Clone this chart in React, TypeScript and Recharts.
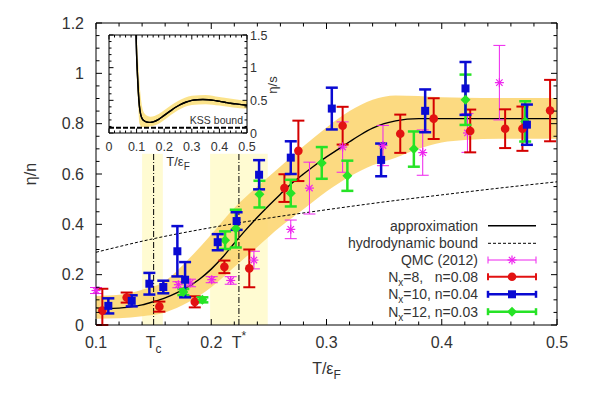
import React from "react";
import {
  ComposedChart,
  Line,
  Area,
  Scatter,
  ErrorBar,
  XAxis,
  YAxis,
  ReferenceLine,
  Legend,
} from "recharts";

const FONT = '"Liberation Sans", Arial, Helvetica, sans-serif';
const TEXT = "#333";

const TC = 0.15;
const TSTAR = 0.224;

// approximation curve
const curveT = [0.1, 0.11, 0.12, 0.13, 0.14, 0.15, 0.16, 0.17, 0.18, 0.19, 0.2, 0.21, 0.22, 0.23, 0.24, 0.25, 0.26, 0.27, 0.28, 0.29, 0.3, 0.31, 0.32, 0.33, 0.34, 0.35, 0.36, 0.37, 0.38, 0.42, 0.46, 0.5];
const curveEta = [0.068, 0.066, 0.067, 0.072, 0.08, 0.093, 0.108, 0.128, 0.152, 0.183, 0.222, 0.27, 0.325, 0.378, 0.428, 0.475, 0.52, 0.563, 0.6, 0.635, 0.668, 0.698, 0.728, 0.757, 0.782, 0.8, 0.811, 0.818, 0.82, 0.82, 0.82, 0.82];

// uncertainty band of the approximation
const bandT = [0.1, 0.12, 0.14, 0.16, 0.18, 0.2, 0.22, 0.24, 0.26, 0.28, 0.3, 0.32, 0.34, 0.36, 0.38, 0.4, 0.42, 0.45, 0.5];
const bandLow = [0.025, 0.027, 0.035, 0.05, 0.09, 0.15, 0.23, 0.31, 0.39, 0.46, 0.53, 0.59, 0.635, 0.665, 0.7, 0.725, 0.735, 0.74, 0.74];
const bandHigh = [0.115, 0.12, 0.14, 0.175, 0.26, 0.36, 0.465, 0.55, 0.63, 0.71, 0.785, 0.85, 0.895, 0.912, 0.91, 0.905, 0.903, 0.902, 0.902];

// pale regions around Tc and T*
const tcRegion = [0.14, 0.158];
const tstarRegion = [0.199, 0.249];
const regionTop = 0.68;

// hydrodynamic bound
const hydroT = [0.1, 0.15, 0.2, 0.25, 0.3, 0.35, 0.4, 0.45, 0.5];
const hydroEta = [0.289, 0.343, 0.387, 0.425, 0.458, 0.489, 0.517, 0.544, 0.569];

// QMC (2012)
const qmcT = [0.1, 0.1715, 0.1816, 0.2004, 0.2169, 0.237, 0.269, 0.2852, 0.314, 0.349, 0.3835, 0.4223, 0.45];
const qmcEta = [0.137, 0.16, 0.167, 0.18, 0.177, 0.258, 0.38, 0.544, 0.707, 0.713, 0.685, 0.763, 0.963];
const qmcErr = [0.012, 0.012, 0.015, 0.012, 0.015, 0.035, 0.037, 0.103, 0.1, 0.08, 0.09, 0.077, 0.148];

// Nx=8, n=0.08
const n8T = [0.1055, 0.1266, 0.155, 0.1857, 0.2114, 0.233, 0.2635, 0.2756, 0.314, 0.364, 0.393, 0.4247, 0.455, 0.47, 0.494];
const n8Eta = [0.057, 0.109, 0.073, 0.092, 0.231, 0.225, 0.544, 0.692, 0.792, 0.76, 0.82, 0.771, 0.78, 0.78, 0.852];
const n8Err: (number | number[])[] = [[0.057, 0.087], 0.02, 0.02, 0.022, 0.025, 0.075, 0.055, 0.12, 0.075, 0.076, 0.081, 0.085, 0.077, 0.088, 0.122];

// Nx=10, n=0.04
const n10T = [0.1107, 0.131, 0.1463, 0.1584, 0.1706, 0.1773, 0.2056, 0.222, 0.2415, 0.269, 0.3046, 0.3474, 0.3856, 0.4206, 0.4739];
const n10Eta = [0.076, 0.096, 0.164, 0.151, 0.293, 0.18, 0.329, 0.413, 0.597, 0.665, 0.86, 0.656, 0.851, 0.94, 0.796];
const n10Err = [0.03, 0.022, 0.043, 0.025, 0.1, 0.07, 0.032, 0.035, 0.058, 0.065, 0.083, 0.065, 0.085, 0.105, 0.08];

// Nx=12, n=0.03
const n12T = [0.1758, 0.1923, 0.212, 0.2213, 0.2418, 0.269, 0.2959, 0.3181, 0.3758, 0.4206, 0.4724];
const n12Eta = [0.131, 0.1, 0.337, 0.383, 0.52, 0.524, 0.644, 0.593, 0.699, 0.895, 0.809];
const n12Err = [0.012, 0.01, 0.035, 0.075, 0.053, 0.053, 0.063, 0.06, 0.07, 0.1, 0.08];

// inset: eta/s
const insetT = [0.098, 0.1, 0.103, 0.106, 0.11, 0.115, 0.12, 0.13, 0.14, 0.15, 0.16, 0.18, 0.2, 0.22, 0.24, 0.26, 0.28, 0.3, 0.32, 0.34, 0.36, 0.38, 0.4, 0.42, 0.44, 0.46, 0.48, 0.5];
const insetEta = [1.5, 1.2, 0.9, 0.65, 0.42, 0.28, 0.22, 0.18, 0.165, 0.162, 0.17, 0.21, 0.27, 0.33, 0.39, 0.44, 0.475, 0.5, 0.51, 0.513, 0.51, 0.5, 0.485, 0.47, 0.455, 0.445, 0.435, 0.425];
const insetBandT = [0.098, 0.1, 0.105, 0.11, 0.12, 0.13, 0.15, 0.18, 0.2, 0.25, 0.3, 0.35, 0.4, 0.45, 0.5];
const insetBandLow = [1.4, 0.95, 0.5, 0.15, 0.09, 0.09, 0.1, 0.14, 0.2, 0.35, 0.43, 0.44, 0.42, 0.39, 0.37];
const insetBandHigh = [1.5, 1.5, 1.15, 0.8, 0.4, 0.29, 0.25, 0.29, 0.35, 0.49, 0.57, 0.58, 0.55, 0.52, 0.49];
const KSS = 0.08;

// ticks
const xTicks = [0.1, 0.12, 0.14, 0.15, 0.16, 0.18, 0.2, 0.22, 0.224, 0.24, 0.26, 0.28, 0.3, 0.32, 0.34, 0.36, 0.38, 0.4, 0.42, 0.44, 0.46, 0.48, 0.5];
const xTicksTop = [0.1, 0.12, 0.14, 0.16, 0.18, 0.2, 0.22, 0.24, 0.26, 0.28, 0.3, 0.32, 0.34, 0.36, 0.38, 0.4, 0.42, 0.44, 0.46, 0.48, 0.5];
const yTicks = [0, 0.05, 0.1, 0.15, 0.2, 0.25, 0.3, 0.35, 0.4, 0.45, 0.5, 0.55, 0.6, 0.65, 0.7, 0.75, 0.8, 0.85, 0.9, 0.95, 1, 1.05, 1.1, 1.15, 1.2];
const insetXTicks = [0, 0.02, 0.04, 0.06, 0.08, 0.1, 0.12, 0.14, 0.16, 0.18, 0.2, 0.22, 0.24, 0.26, 0.28, 0.3, 0.32, 0.34, 0.36, 0.38, 0.4, 0.42, 0.44, 0.46, 0.48, 0.5];
const insetYTicks = [0, 0.1, 0.2, 0.3, 0.4, 0.5, 0.6, 0.7, 0.8, 0.9, 1, 1.1, 1.2, 1.3, 1.4, 1.5];

const pts = (t: number[], v: number[], e?: any[]) =>
  t.map((x, i) => ({ x, y: v[i], err: e ? e[i] : 0 }));

const curveData = pts(curveT, curveEta);
const hydroData = pts(hydroT, hydroEta);
const bandData = bandT.map((x, i) => ({ x, range: [bandLow[i], bandHigh[i]] }));
const tcData = tcRegion.map((x) => ({ x, y: regionTop }));
const tstarData = tstarRegion.map((x) => ({ x, y: regionTop }));
const qmcData = pts(qmcT, qmcEta, qmcErr);
const n8Data = pts(n8T, n8Eta, n8Err);
const n10Data = pts(n10T, n10Eta, n10Err);
const n12Data = pts(n12T, n12Eta, n12Err);
const insetData = pts(insetT, insetEta);
const insetBand = insetBandT.map((x, i) => ({ x, range: [insetBandLow[i], insetBandHigh[i]] }));

const RED = "#e21212";
const BLUE = "#0a0ad2";
const GREEN = "#26e326";
const MAGENTA = "#ee22ee";
const GOLD = "#fcd673";
const PALE = "#fffbd2";

const isMajor = (v: number, step: number) => Math.abs(v / step - Math.round(v / step)) < 1e-6;

// main axis ticks (inward, gnuplot style)
const BottomTick = (p: any) => {
  const { x, y, payload } = p;
  const v = payload.value;
  const txt = { x, y: y + 23, textAnchor: "middle" as const, fontSize: 16, fill: TEXT, fontFamily: FONT };
  if (v === TC)
    return (
      <text {...txt}>
        T<tspan dy={5} fontSize={12}>c</tspan>
      </text>
    );
  if (v === TSTAR)
    return (
      <text {...txt}>
        T<tspan dy={-8} fontSize={12}>*</tspan>
      </text>
    );
  const major = isMajor(v, 0.1);
  return (
    <g>
      <line x1={x} x2={x} y1={y} y2={y - (major ? 6 : 3.5)} stroke="#000" />
      {major && <text {...txt}>{String(v)}</text>}
    </g>
  );
};

const TopTick = (p: any) => {
  const { x, y, payload } = p;
  const major = isMajor(payload.value, 0.1);
  return <line x1={x} x2={x} y1={y} y2={y + (major ? 6 : 3.5)} stroke="#000" />;
};

const LeftTick = (p: any) => {
  const { x, y, payload } = p;
  const v = payload.value;
  const major = isMajor(v, 0.2);
  return (
    <g>
      <line x1={x} x2={x + (major ? 6 : 3.5)} y1={y} y2={y} stroke="#000" />
      {major && (
        <text x={x - 12} y={y} dy="0.36em" textAnchor="end" fontSize={16} fill={TEXT} fontFamily={FONT}>
          {String(v)}
        </text>
      )}
    </g>
  );
};

const RightTick = (p: any) => {
  const { x, y, payload } = p;
  const major = isMajor(payload.value, 0.2);
  return <line x1={x} x2={x - (major ? 6 : 3.5)} y1={y} y2={y} stroke="#000" />;
};

// inset ticks
const InsetBottomTick = (p: any) => {
  const { x, y, payload } = p;
  const v = payload.value;
  const major = isMajor(v, 0.1);
  return (
    <g>
      <line x1={x} x2={x} y1={y} y2={y - (major ? 4.5 : 2.5)} stroke="#000" />
      {major && (
        <text x={x} y={y + 18} textAnchor="middle" fontSize={12.5} fill={TEXT} fontFamily={FONT}>
          {String(v)}
        </text>
      )}
    </g>
  );
};

const InsetTopTick = (p: any) => {
  const { x, y, payload } = p;
  const major = isMajor(payload.value, 0.1);
  return <line x1={x} x2={x} y1={y} y2={y + (major ? 4.5 : 2.5)} stroke="#000" />;
};

const InsetLeftTick = (p: any) => {
  const { x, y, payload } = p;
  const major = isMajor(payload.value, 0.5);
  return <line x1={x} x2={x + (major ? 4.5 : 2.5)} y1={y} y2={y} stroke="#000" />;
};

const InsetRightTick = (p: any) => {
  const { x, y, payload } = p;
  const v = payload.value;
  const major = isMajor(v, 0.5);
  return (
    <g>
      <line x1={x} x2={x - (major ? 4.5 : 2.5)} y1={y} y2={y} stroke="#000" />
      {major && (
        <text x={x + 3} y={y} dy="0.36em" textAnchor="start" fontSize={12.5} fill={TEXT} fontFamily={FONT}>
          {String(v)}
        </text>
      )}
    </g>
  );
};

// markers
const Circle = (p: any) => <circle cx={p.cx} cy={p.cy} r={4.3} fill={RED} />;
const Square = (p: any) => <rect x={p.cx - 4} y={p.cy - 4} width={8} height={8} fill={BLUE} />;
const Diamond = (p: any) => (
  <polygon
    points={`${p.cx},${p.cy - 5} ${p.cx + 5},${p.cy} ${p.cx},${p.cy + 5} ${p.cx - 5},${p.cy}`}
    fill={GREEN}
  />
);
const Star = (p: any) => {
  const { cx, cy } = p;
  const r = 4.5;
  const d = 3.2;
  return (
    <g stroke={MAGENTA} strokeWidth={1.2}>
      <line x1={cx - r} x2={cx + r} y1={cy} y2={cy} />
      <line x1={cx} x2={cx} y1={cy - r} y2={cy + r} />
      <line x1={cx - d} x2={cx + d} y1={cy - d} y2={cy + d} />
      <line x1={cx - d} x2={cx + d} y1={cy + d} y2={cy - d} />
    </g>
  );
};

const LegendBox = () => {
  const tx = 220;
  const l1 = 230;
  const l2 = 278;
  const mid = 254;
  const rows = [12.7, 30.3, 47, 63.7, 81.3, 98.7];
  const t = { x: tx, textAnchor: "end" as const, fontSize: 14, fill: TEXT, fontFamily: FONT };
  const errRow = (y: number, color: string, w: number, marker: React.ReactNode) => (
    <g>
      <line x1={l1} x2={l2} y1={y} y2={y} stroke={color} strokeWidth={w} />
      <line x1={l1} x2={l1} y1={y - 3.5} y2={y + 3.5} stroke={color} strokeWidth={w} />
      <line x1={l2} x2={l2} y1={y - 3.5} y2={y + 3.5} stroke={color} strokeWidth={w} />
      {marker}
    </g>
  );
  return (
    <svg width={290} height={110} style={{ overflow: "visible" }}>
      <text {...t} y={rows[0] + 5}>approximation</text>
      <line x1={l1} x2={l2} y1={rows[0]} y2={rows[0]} stroke="#000" strokeWidth={1.5} />
      <text {...t} y={rows[1] + 5}>hydrodynamic bound</text>
      <line x1={l1} x2={l2} y1={rows[1]} y2={rows[1]} stroke="#000" strokeWidth={1} strokeDasharray="3 2" />
      <text {...t} y={rows[2] + 5}>QMC (2012)</text>
      {errRow(rows[2], MAGENTA, 1, <Star cx={mid} cy={rows[2]} />)}
      <text {...t} y={rows[3] + 5}>
        N<tspan dy={4} fontSize={10}>x</tspan>
        <tspan dy={-4}>{"=8,\u00a0\u00a0\u00a0n=0.08"}</tspan>
      </text>
      {errRow(rows[3], RED, 2, <Circle cx={mid} cy={rows[3]} />)}
      <text {...t} y={rows[4] + 5}>
        N<tspan dy={4} fontSize={10}>x</tspan>
        <tspan dy={-4}>=10, n=0.04</tspan>
      </text>
      {errRow(rows[4], BLUE, 2.5, <Square cx={mid} cy={rows[4]} />)}
      <text {...t} y={rows[5] + 5}>
        N<tspan dy={4} fontSize={10}>x</tspan>
        <tspan dy={-4}>=12, n=0.03</tspan>
      </text>
      {errRow(rows[5], GREEN, 2.5, <Diamond cx={mid} cy={rows[5]} />)}
    </svg>
  );
};

const MainXLabel = (p: any) => {
  const vb = p.viewBox || { x: 88, y: 317, width: 461 };
  return (
    <text x={vb.x + vb.width / 2} y={vb.y + 49} textAnchor="middle" fontSize={16} fill={TEXT} fontFamily={FONT}>
      T/ε<tspan dy={5} fontSize={12}>F</tspan>
    </text>
  );
};

const MainYLabel = (p: any) => {
  const vb = p.viewBox || { x: 0, y: 15, height: 302 };
  const cx = vb.x + 22;
  const cy = vb.y + vb.height / 2;
  return (
    <text x={cx} y={cy} dy="0.36em" transform={`rotate(-90 ${cx} ${cy})`} textAnchor="middle" fontSize={16} fill={TEXT} fontFamily={FONT}>
      η/n
    </text>
  );
};

const InsetXLabel = (p: any) => {
  const vb = p.viewBox || { x: 11, y: 105, width: 138 };
  return (
    <text x={vb.x + vb.width / 2} y={vb.y + 33} textAnchor="middle" fontSize={13} fill={TEXT} fontFamily={FONT}>
      T/ε<tspan dy={4} fontSize={10}>F</tspan>
    </text>
  );
};

const InsetYLabel = (p: any) => {
  const vb = p.viewBox || { x: 149, y: 7, height: 98 };
  const cx = vb.x + 25;
  const cy = vb.y + 50;
  return (
    <text x={cx} y={cy} dy="0.36em" transform={`rotate(-90 ${cx} ${cy})`} textAnchor="middle" fontSize={13} fill={TEXT} fontFamily={FONT}>
      η/s
    </text>
  );
};

const KssLabel = (p: any) => {
  const vb = p.viewBox || { x: 11, y: 100, width: 138 };
  return (
    <text x={vb.x + vb.width - 4} y={vb.y - 4} textAnchor="end" fontSize={10.5} fill={TEXT} fontFamily={FONT}>
      KSS bound
    </text>
  );
};

function Inset() {
  return (
    <div style={{ position: "absolute", left: 90, top: 20 }}>
      <ComposedChart width={200} height={145} margin={{ top: 6, right: 0, bottom: 0, left: 10 }}>
        <XAxis
          xAxisId={0}
          type="number"
          dataKey="x"
          domain={[0, 0.5]}
          ticks={insetXTicks}
          interval={0}
          tickSize={0}
          tickMargin={0}
          tick={<InsetBottomTick />}
          axisLine={{ stroke: "#000" }}
          height={40}
          label={<InsetXLabel />}
        />
        <XAxis
          xAxisId="top"
          orientation="top"
          type="number"
          dataKey="x"
          domain={[0, 0.5]}
          ticks={insetXTicks}
          interval={0}
          tickSize={0}
          tickMargin={0}
          tick={<InsetTopTick />}
          axisLine={{ stroke: "#000" }}
          height={1}
        />
        <YAxis
          yAxisId={0}
          type="number"
          domain={[0, 1.5]}
          ticks={insetYTicks}
          interval={0}
          tickSize={0}
          tickMargin={0}
          tick={<InsetLeftTick />}
          axisLine={{ stroke: "#000" }}
          width={1}
          allowDataOverflow
        />
        <YAxis
          yAxisId="right"
          orientation="right"
          type="number"
          domain={[0, 1.5]}
          ticks={insetYTicks}
          interval={0}
          tickSize={0}
          tickMargin={0}
          tick={<InsetRightTick />}
          axisLine={{ stroke: "#000" }}
          width={51}
          allowDataOverflow
          label={<InsetYLabel />}
        />
        <Area
          data={insetBand}
          dataKey="range"
          type="monotone"
          stroke="none"
          fill="#fbe07e"
          fillOpacity={0.9}
          isAnimationActive={false}
        />
        <ReferenceLine y={KSS} stroke="#000" strokeWidth={2.2} strokeDasharray="5 2" label={<KssLabel />} />
        <Line
          data={insetData}
          dataKey="y"
          type="monotone"
          stroke="#000"
          strokeWidth={1.4}
          dot={false}
          isAnimationActive={false}
        />
        {/* same curve on the mirror axes so that they are drawn */}
        <Line
          data={insetData}
          dataKey="y"
          xAxisId="top"
          yAxisId="right"
          type="monotone"
          stroke="#000"
          strokeWidth={1.4}
          dot={false}
          isAnimationActive={false}
        />
      </ComposedChart>
    </div>
  );
}

export default function App() {
  return (
    <div style={{ position: "relative", width: 585, height: 387, fontFamily: FONT, background: "#fff" }}>
      <ComposedChart width={585} height={387} margin={{ top: 14, right: 35, bottom: 0, left: 0 }}>
        <XAxis
          xAxisId={0}
          type="number"
          dataKey="x"
          domain={[0.1, 0.5]}
          ticks={xTicks}
          interval={0}
          tickSize={0}
          tickMargin={0}
          tick={<BottomTick />}
          axisLine={{ stroke: "#000" }}
          height={70}
          label={<MainXLabel />}
        />
        <XAxis
          xAxisId="top"
          orientation="top"
          type="number"
          dataKey="x"
          domain={[0.1, 0.5]}
          ticks={xTicksTop}
          interval={0}
          tickSize={0}
          tickMargin={0}
          tick={<TopTick />}
          axisLine={{ stroke: "#000" }}
          height={1}
        />
        <YAxis
          yAxisId={0}
          type="number"
          domain={[0, 1.2]}
          ticks={yTicks}
          interval={0}
          tickSize={0}
          tickMargin={0}
          tick={<LeftTick />}
          axisLine={{ stroke: "#000" }}
          width={88}
          label={<MainYLabel />}
        />
        <YAxis
          yAxisId="right"
          orientation="right"
          type="number"
          domain={[0, 1.2]}
          ticks={yTicks}
          interval={0}
          tickSize={0}
          tickMargin={0}
          tick={<RightTick />}
          axisLine={{ stroke: "#000" }}
          width={1}
        />
        <Area data={tcData} dataKey="y" type="linear" stroke="none" fill={PALE} fillOpacity={1} isAnimationActive={false} />
        <Area data={tstarData} dataKey="y" type="linear" stroke="none" fill={PALE} fillOpacity={1} isAnimationActive={false} />
        <Area
          data={bandData}
          dataKey="range"
          type="monotone"
          stroke="none"
          fill={GOLD}
          fillOpacity={0.9}
          isAnimationActive={false}
        />
        <ReferenceLine
          segment={[{ x: TC, y: 0 }, { x: TC, y: regionTop }]}
          stroke="#000"
          strokeWidth={1}
          strokeDasharray="6 2 1 2"
        />
        <ReferenceLine
          segment={[{ x: TSTAR, y: 0 }, { x: TSTAR, y: regionTop }]}
          stroke="#000"
          strokeWidth={1}
          strokeDasharray="6 2 1 2"
        />
        <Line
          data={hydroData}
          dataKey="y"
          xAxisId="top"
          yAxisId="right"
          type="monotone"
          stroke="#000"
          strokeWidth={1}
          strokeDasharray="3 2"
          dot={false}
          isAnimationActive={false}
        />
        <Line
          data={curveData}
          dataKey="y"
          type="monotone"
          stroke="#000"
          strokeWidth={1.4}
          dot={false}
          isAnimationActive={false}
        />
        <Scatter data={qmcData} dataKey="y" shape={<Star />} isAnimationActive={false}>
          <ErrorBar dataKey="err" direction="y" width={6} stroke={MAGENTA} strokeWidth={1} />
        </Scatter>
        <Scatter data={n8Data} dataKey="y" shape={<Circle />} isAnimationActive={false}>
          <ErrorBar dataKey="err" direction="y" width={6} stroke="#d40000" strokeWidth={2} />
        </Scatter>
        <Scatter data={n12Data} dataKey="y" shape={<Diamond />} isAnimationActive={false}>
          <ErrorBar dataKey="err" direction="y" width={6} stroke={GREEN} strokeWidth={2.5} />
        </Scatter>
        <Scatter data={n10Data} dataKey="y" shape={<Square />} isAnimationActive={false}>
          <ErrorBar dataKey="err" direction="y" width={6} stroke={BLUE} strokeWidth={2.5} />
        </Scatter>
        <Legend
          layout="horizontal"
          verticalAlign="middle"
          align="center"
          content={<LegendBox />}
          wrapperStyle={{ position: "absolute", left: 250, top: 205, width: 290, height: 110 }}
        />
      </ComposedChart>
      <Inset />
    </div>
  );
}
